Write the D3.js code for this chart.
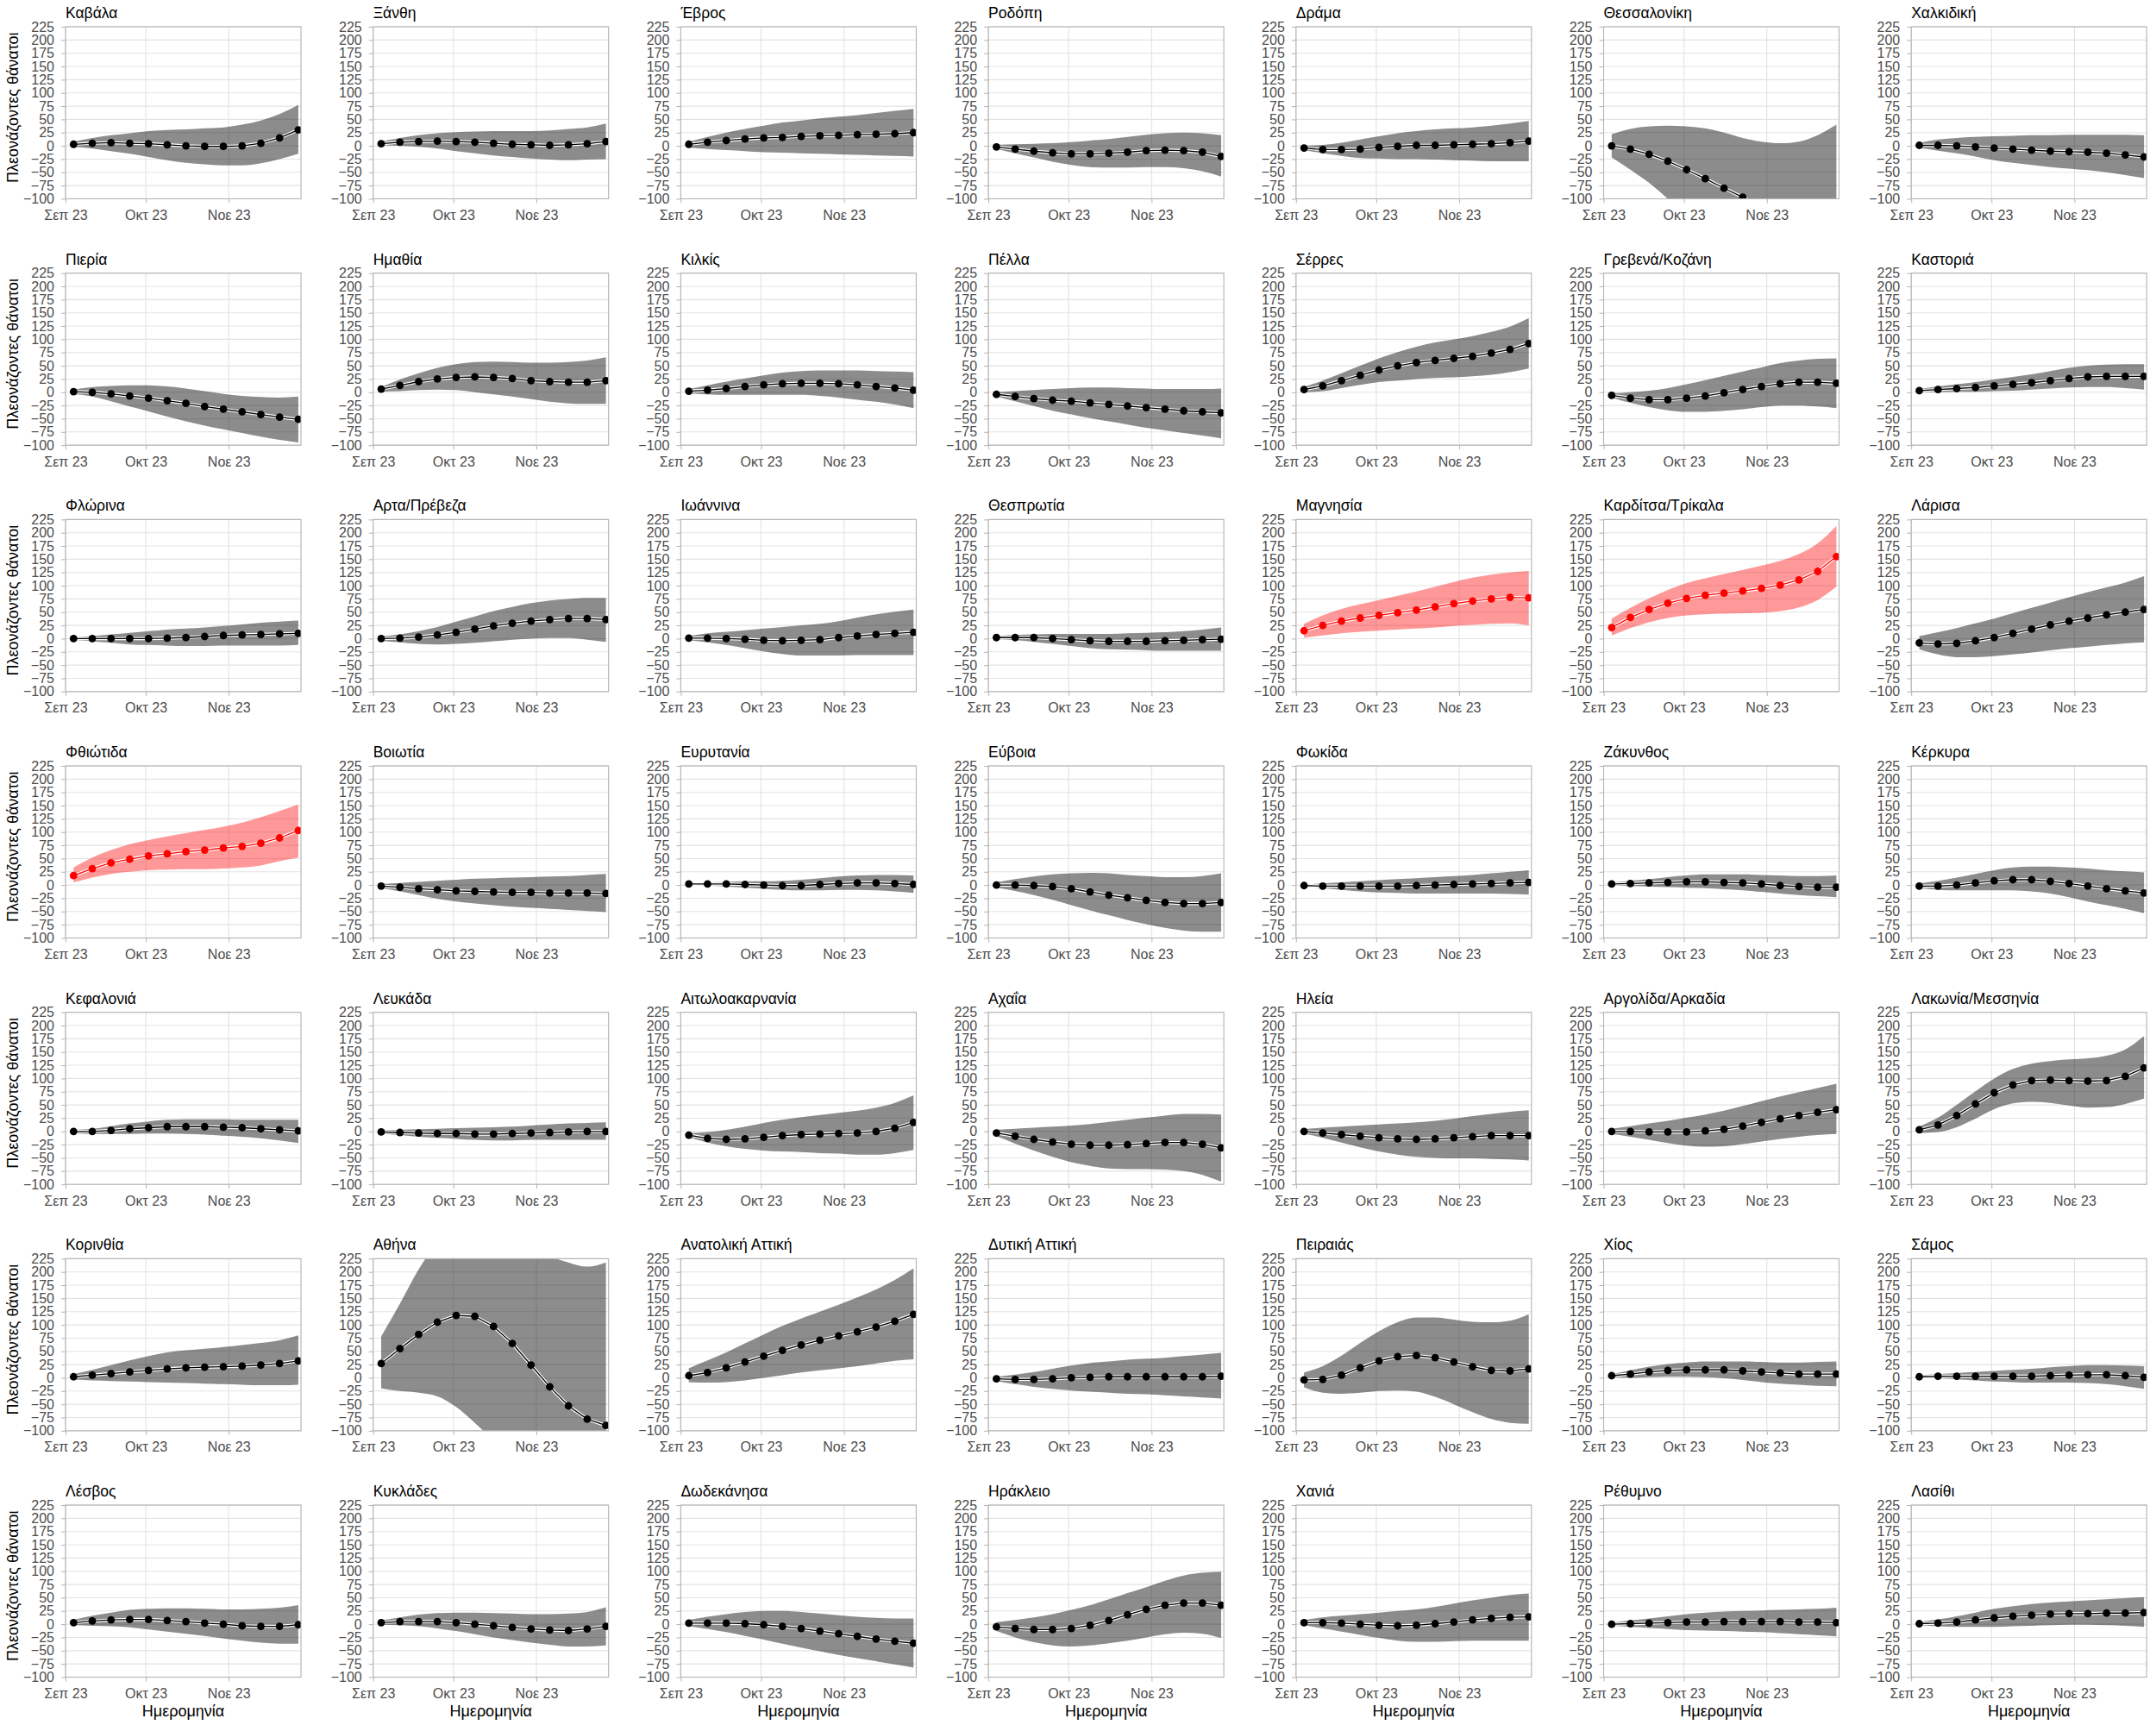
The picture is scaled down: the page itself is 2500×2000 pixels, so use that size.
<!DOCTYPE html>
<html>
<head>
<meta charset="utf-8">
<script src="https://cdn.jsdelivr.net/npm/d3@7"></script>
<style>
  body { margin: 0; background: #fff; }
  svg { display: block; font-family: "Liberation Sans", Arial, Helvetica, sans-serif; }
</style>
</head>
<body>
<div id="chart"></div>
<script>
// regions, in panel order (row by row, 7 per row)
const regions = [
  "Καβάλα", "Ξάνθη", "Έβρος", "Ροδόπη", "Δράμα", "Θεσσαλονίκη", "Χαλκιδική",
  "Πιερία", "Ημαθία", "Κιλκίς", "Πέλλα", "Σέρρες", "Γρεβενά/Κοζάνη", "Καστοριά",
  "Φλώρινα", "Αρτα/Πρέβεζα", "Ιωάννινα", "Θεσπρωτία", "Μαγνησία", "Καρδίτσα/Τρίκαλα", "Λάρισα",
  "Φθιώτιδα", "Βοιωτία", "Ευρυτανία", "Εύβοια", "Φωκίδα", "Ζάκυνθος", "Κέρκυρα",
  "Κεφαλονιά", "Λευκάδα", "Αιτωλοακαρνανία", "Αχαΐα", "Ηλεία", "Αργολίδα/Αρκαδία", "Λακωνία/Μεσσηνία",
  "Κορινθία", "Αθήνα", "Ανατολική Αττική", "Δυτική Αττική", "Πειραιάς", "Χίος", "Σάμος",
  "Λέσβος", "Κυκλάδες", "Δωδεκάνησα", "Ηράκλειο", "Χανιά", "Ρέθυμνο", "Λασίθι"
];

// regions drawn in red
const redRegions = ["Μαγνησία", "Καρδίτσα/Τρίκαλα", "Φθιώτιδα"];

// weekly dates of the estimates
const weekDates = ["2023-09-04", "2023-09-11", "2023-09-18", "2023-09-25", "2023-10-02",
  "2023-10-09", "2023-10-16", "2023-10-23", "2023-10-30", "2023-11-06",
  "2023-11-13", "2023-11-20", "2023-11-27"];

// excess deaths estimate per region
const meanValues = [
  [3,5,6,5,4,2,0,-1,-1,0,5,15,30],
  [4,7,8,9,8,7,5,3,2,1,2,4,8],
  [3,7,10,13,15,16,18,19,20,21,22,23,25],
  [-2,-6,-10,-13,-15,-15,-14,-12,-9,-8,-9,-12,-20],
  [-4,-7,-7,-6,-3,-1,1,1,2,3,4,6,9],
  [0,-6,-16,-29,-45,-62,-80,-97,-115,-132,-148,-163,-178],
  [1,1,0,-2,-4,-6,-8,-10,-11,-12,-14,-17,-21],
  [1,0,-3,-7,-11,-16,-21,-27,-32,-37,-42,-47,-51],
  [6,13,20,25,28,29,28,26,22,20,19,19,22],
  [2,4,7,11,14,16,17,17,16,14,11,8,4],
  [-4,-8,-12,-15,-17,-20,-23,-26,-29,-32,-35,-37,-39],
  [5,12,22,32,42,50,56,60,64,68,74,81,92],
  [-6,-11,-14,-14,-11,-7,-1,5,11,16,19,19,17],
  [3,5,7,9,12,15,18,22,26,29,30,30,30],
  [0,0,0,0,0,1,2,4,6,7,8,9,10],
  [0,1,3,7,12,18,24,29,33,36,38,38,36],
  [1,1,0,-1,-3,-4,-3,-2,2,5,8,10,12],
  [2,2,2,0,-2,-4,-5,-5,-5,-4,-3,-2,-1],
  [15,25,33,39,44,49,54,60,66,71,75,78,77],
  [21,40,55,67,76,82,86,90,95,101,111,127,155],
  [-8,-10,-9,-4,2,10,18,26,33,39,45,50,55],
  [18,31,42,49,55,59,63,66,70,73,79,89,103],
  [-2,-4,-7,-9,-11,-12,-13,-14,-14,-15,-15,-15,-16],
  [2,2,2,1,0,-1,-1,1,3,4,4,3,1],
  [0,0,-1,-3,-7,-13,-19,-24,-29,-33,-35,-35,-33],
  [-1,-2,-2,-2,-2,-2,-1,0,1,2,3,4,5],
  [2,3,4,5,6,6,5,4,2,-1,-3,-4,-4],
  [-2,-2,0,4,8,10,10,7,3,-2,-7,-11,-15],
  [0,0,2,5,7,9,9,9,8,7,5,3,1],
  [-1,-2,-3,-4,-4,-5,-5,-4,-3,-2,-1,0,0],
  [-7,-13,-15,-14,-11,-8,-6,-5,-4,-3,0,6,17],
  [-3,-9,-15,-20,-24,-26,-26,-25,-23,-21,-21,-24,-31],
  [0,-3,-6,-9,-12,-14,-15,-14,-12,-10,-8,-8,-8],
  [0,0,-1,-1,-1,1,4,10,17,24,30,36,41],
  [3,12,30,52,73,88,96,97,96,95,96,104,120],
  [2,5,8,11,14,17,19,20,21,22,24,27,32],
  [27,55,82,105,118,116,97,65,24,-17,-53,-78,-90],
  [4,10,19,30,41,52,62,71,79,87,96,107,120],
  [-2,-3,-3,-2,0,1,2,2,2,2,2,2,3],
  [-4,-3,5,19,32,40,42,38,30,21,14,13,17],
  [4,7,11,14,15,15,15,13,11,9,7,7,7],
  [2,3,3,3,3,3,3,4,5,6,6,4,1],
  [3,6,8,9,9,7,5,2,0,-3,-4,-4,-1],
  [3,5,5,5,3,0,-3,-6,-9,-11,-12,-9,-4],
  [2,2,2,1,-1,-4,-8,-13,-18,-23,-28,-32,-36],
  [-5,-8,-10,-10,-8,-2,7,18,28,36,40,40,36],
  [3,3,2,0,-2,-3,-2,1,4,8,11,13,14],
  [0,1,2,3,4,4,5,5,5,5,4,4,3],
  [1,2,4,8,12,15,17,19,20,20,21,21,22]
];

// lower bound of the interval
const lowerValues = [
  [-2,-5,-10,-15,-21,-27,-32,-35,-37,-37,-33,-25,-15],
  [1,0,-2,-5,-10,-14,-18,-21,-24,-26,-27,-26,-25],
  [-3,-6,-8,-10,-12,-13,-14,-15,-16,-17,-18,-19,-20],
  [-6,-14,-22,-30,-36,-40,-41,-41,-40,-40,-42,-48,-58],
  [-8,-14,-19,-23,-24,-25,-25,-26,-27,-28,-29,-29,-29],
  [-22,-45,-70,-100,-130,-160,-190,-220,-250,-280,-300,-320,-340],
  [-4,-9,-14,-20,-27,-32,-36,-40,-43,-46,-50,-55,-61],
  [-3,-8,-17,-27,-36,-46,-55,-63,-70,-77,-84,-90,-95],
  [1,2,4,5,4,0,-4,-8,-13,-18,-21,-22,-22],
  [-2,-4,-5,-5,-5,-5,-5,-7,-10,-14,-18,-23,-30],
  [-8,-17,-26,-35,-42,-49,-55,-61,-67,-72,-77,-82,-87],
  [0,2,8,14,19,22,25,27,28,30,33,38,45],
  [-10,-20,-28,-34,-37,-37,-35,-32,-28,-25,-25,-27,-30],
  [0,0,1,1,2,3,5,7,9,10,10,8,5],
  [-2,-5,-8,-11,-12,-13,-14,-14,-13,-13,-13,-13,-12],
  [-4,-7,-10,-11,-10,-8,-5,-2,0,1,1,-2,-6],
  [-3,-7,-12,-18,-24,-29,-32,-32,-32,-31,-31,-31,-31],
  [-1,-3,-6,-10,-14,-18,-20,-21,-22,-23,-23,-23,-23],
  [2,6,10,13,15,17,19,21,24,26,28,29,25],
  [6,20,31,39,44,46,47,48,49,52,59,73,98],
  [-20,-30,-35,-35,-33,-30,-26,-22,-18,-15,-12,-9,-7],
  [5,14,21,25,28,29,30,30,31,33,37,45,52],
  [-6,-12,-19,-26,-31,-35,-38,-41,-43,-45,-47,-49,-51],
  [0,-1,-3,-5,-7,-9,-10,-10,-9,-9,-10,-12,-15],
  [-5,-11,-19,-28,-38,-48,-57,-66,-74,-81,-86,-88,-88],
  [-3,-6,-9,-12,-14,-15,-16,-16,-16,-16,-16,-17,-18],
  [-1,-2,-3,-4,-5,-6,-8,-10,-13,-16,-19,-21,-23],
  [-6,-9,-10,-10,-10,-10,-12,-16,-23,-31,-38,-45,-53],
  [-3,-5,-5,-5,-4,-4,-5,-6,-8,-10,-13,-17,-22],
  [-4,-7,-10,-12,-14,-16,-17,-17,-16,-16,-16,-16,-16],
  [-11,-21,-28,-33,-36,-38,-39,-41,-42,-44,-44,-41,-35],
  [-9,-23,-36,-48,-58,-65,-70,-71,-71,-72,-75,-82,-95],
  [-4,-12,-21,-30,-38,-44,-48,-50,-51,-51,-52,-53,-55],
  [-5,-10,-16,-22,-27,-29,-28,-24,-19,-14,-10,-7,-5],
  [-3,-1,8,24,42,53,56,54,49,45,46,52,62],
  [-3,-5,-6,-7,-8,-9,-10,-11,-12,-13,-14,-14,-13],
  [-20,-25,-28,-35,-55,-85,-120,-160,-200,-240,-270,-290,-300],
  [-8,-9,-8,-5,0,5,10,14,18,22,27,32,35],
  [-6,-12,-17,-21,-24,-26,-28,-30,-31,-33,-35,-37,-39],
  [-18,-28,-30,-28,-25,-24,-26,-36,-50,-65,-78,-85,-87],
  [1,0,1,2,2,1,-1,-4,-8,-11,-13,-15,-16],
  [-1,-1,-3,-5,-7,-8,-9,-9,-9,-10,-12,-16,-21],
  [-2,-3,-4,-6,-10,-14,-18,-22,-27,-31,-35,-37,-37],
  [-1,-2,-4,-8,-13,-19,-25,-30,-35,-39,-42,-42,-40],
  [-4,-9,-15,-22,-29,-37,-44,-51,-58,-64,-70,-76,-82],
  [-13,-25,-34,-40,-42,-40,-36,-31,-25,-19,-16,-18,-26],
  [-2,-8,-14,-20,-26,-31,-33,-33,-32,-31,-31,-31,-31],
  [-3,-5,-7,-9,-11,-12,-13,-14,-15,-17,-19,-21,-23],
  [-2,-4,-5,-5,-5,-4,-3,-2,-1,-1,-2,-3,-5]
];

// upper bound of the interval
const upperValues = [
  [8,15,20,24,28,30,31,33,35,40,48,60,77],
  [8,15,20,24,26,27,28,28,28,29,32,35,42],
  [8,17,25,32,38,44,48,52,55,58,62,66,70],
  [2,3,4,5,7,10,13,17,21,24,25,24,20],
  [0,2,6,12,18,24,28,31,33,35,38,42,47],
  [22,32,37,38,37,33,25,15,8,5,8,20,40],
  [6,12,15,17,18,19,20,20,21,21,21,21,20],
  [5,10,12,13,13,11,7,2,-3,-7,-9,-10,-8],
  [10,24,36,46,53,57,58,57,56,56,57,60,66],
  [6,13,20,26,32,37,40,41,41,41,40,39,38],
  [0,2,4,6,8,9,9,8,7,6,6,6,7],
  [10,22,36,50,64,76,86,94,100,106,114,124,140],
  [-2,0,3,8,15,23,31,39,47,55,60,63,64],
  [6,11,15,19,24,29,34,40,46,50,52,53,53],
  [2,5,8,11,14,17,19,21,24,27,30,32,34],
  [4,8,14,22,32,42,52,60,67,72,75,77,77],
  [5,10,13,16,19,22,25,28,33,40,46,51,55],
  [5,7,8,9,9,9,9,10,11,12,14,17,21],
  [28,44,56,65,73,81,89,98,107,115,121,125,128],
  [38,58,76,92,105,114,122,130,138,147,160,180,213],
  [5,12,20,29,38,48,58,68,78,88,97,106,118],
  [33,52,66,77,85,92,98,104,110,118,128,140,152],
  [2,4,6,8,10,12,13,14,15,16,17,19,21],
  [4,5,6,7,7,8,10,13,16,18,19,19,18],
  [5,11,16,20,22,23,22,19,17,15,15,17,22],
  [1,3,5,7,9,11,13,15,17,19,22,25,28],
  [5,8,11,15,18,20,20,20,19,18,17,17,18],
  [3,8,14,21,28,33,35,35,33,31,28,26,24],
  [3,5,10,15,19,22,23,23,23,22,22,22,22],
  [2,3,4,5,6,7,8,9,11,13,15,16,17],
  [-3,-1,3,9,16,22,27,31,35,39,45,54,68],
  [3,5,7,9,11,14,18,22,26,30,33,33,32],
  [4,7,9,11,13,15,17,20,24,29,33,37,40],
  [5,10,15,20,26,32,39,48,57,66,74,82,90],
  [9,26,50,76,100,118,128,133,136,138,143,155,180],
  [7,15,24,33,41,48,52,55,58,62,66,71,80],
  [78,140,205,255,285,295,290,275,250,230,218,210,218],
  [18,33,48,65,82,98,112,125,138,152,167,185,207],
  [2,6,11,17,23,28,31,34,36,38,41,44,47],
  [10,22,42,66,88,105,114,114,110,106,105,108,120],
  [7,14,21,26,29,31,31,31,30,29,29,30,31],
  [5,7,9,11,13,15,17,20,22,24,24,23,22],
  [8,16,22,27,29,30,30,29,28,28,29,31,36],
  [7,13,18,21,22,22,21,20,19,19,20,23,32],
  [8,14,19,23,25,25,23,20,17,14,12,11,11],
  [4,8,13,19,27,36,47,59,70,82,92,97,99],
  [8,13,16,19,22,25,28,33,39,45,50,55,58],
  [3,7,11,15,19,22,24,25,26,27,28,29,31],
  [4,9,15,22,29,34,38,41,43,45,47,49,51]
];

const yTicks = [-100, -75, -50, -25, 0, 25, 50, 75, 100, 125, 150, 175, 200, 225];
const monthTicks = ["2023-09-01", "2023-10-01", "2023-11-01"];
const monthLabels = ["Σεπ 23", "Οκτ 23", "Νοε 23"];

const yTitle = "Πλεονάζοντες θάνατοι";
const xTitle = "Ημερομηνία";

// layout
const width = 2500, height = 2000;
const nCols = 7;
const panelW = 273, panelH = 199.5;
const colStep = 356.7, rowStep = 285.67;
const left0 = 76, top0 = 31;

const parse = d3.utcParse("%Y-%m-%d");
const dates = weekDates.map(parse);
const monthDates = monthTicks.map(parse);

const x = d3.scaleUtc()
  .domain([parse("2023-09-01"), parse("2023-11-28")])
  .range([0, panelW]);
const y = d3.scaleLinear().domain([-100, 225]).range([panelH, 0]);

const svg = d3.select("#chart").append("svg")
  .attr("width", width)
  .attr("height", height);

const nRows = Math.ceil(regions.length / nCols);

regions.forEach((name, i) => {
  const col = i % nCols, row = Math.floor(i / nCols);
  const g = svg.append("g")
    .attr("transform", `translate(${left0 + col * colStep},${top0 + row * rowStep})`);
  const isRed = redRegions.includes(name);
  const color = isRed ? "#ff0000" : "#000000";

  const clipId = "clip" + i;
  g.append("clipPath").attr("id", clipId)
    .append("rect").attr("width", panelW).attr("height", panelH);

  // grid
  g.append("g").selectAll("line").data(yTicks).join("line")
    .attr("x1", 0).attr("x2", panelW)
    .attr("y1", d => y(d)).attr("y2", d => y(d))
    .attr("stroke", "#e3e3e3").attr("stroke-width", 1.1);
  g.append("g").selectAll("line").data(monthDates).join("line")
    .attr("y1", 0).attr("y2", panelH)
    .attr("x1", d => x(d)).attr("x2", d => x(d))
    .attr("stroke", "#e3e3e3").attr("stroke-width", 1.1);

  const pts = dates.map((d, k) => ({
    date: d,
    mean: meanValues[i][k],
    lo: lowerValues[i][k],
    hi: upperValues[i][k]
  }));

  const plot = g.append("g").attr("clip-path", `url(#${clipId})`);

  plot.append("path")
    .datum(pts)
    .attr("fill", color)
    .attr("fill-opacity", isRed ? 0.4 : 0.45)
    .attr("d", d3.area()
      .curve(d3.curveMonotoneX)
      .x(d => x(d.date))
      .y0(d => y(d.lo))
      .y1(d => y(d.hi)));

  const line = d3.line().x(d => x(d.date)).y(d => y(d.mean));
  plot.append("path").datum(pts)
    .attr("fill", "none").attr("stroke", "#ffffff").attr("stroke-width", 3.6)
    .attr("d", line);
  plot.append("path").datum(pts)
    .attr("fill", "none").attr("stroke", color).attr("stroke-width", 1.3)
    .attr("d", line);
  plot.append("g").selectAll("circle").data(pts).join("circle")
    .attr("cx", d => x(d.date)).attr("cy", d => y(d.mean))
    .attr("r", 4.4).attr("fill", color);

  // border
  g.append("rect")
    .attr("width", panelW).attr("height", panelH)
    .attr("fill", "none").attr("stroke", "#b3b3b3").attr("stroke-width", 1.1);

  // axes
  const yAxis = g.append("g")
    .call(d3.axisLeft(y).tickValues(yTicks).tickSize(5).tickPadding(8));
  const xAxis = g.append("g")
    .attr("transform", `translate(0,${panelH})`)
    .call(d3.axisBottom(x).tickValues(monthDates).tickSize(5).tickPadding(8)
      .tickFormat((d, k) => monthLabels[k]));
  [yAxis, xAxis].forEach(a => {
    a.select(".domain").remove();
    a.selectAll(".tick line").attr("stroke", "#b3b3b3");
    a.selectAll(".tick text")
      .attr("fill", "#4d4d4d")
      .style("font-size", "16px")
      .style("font-family", "'Liberation Sans', Arial, sans-serif");
  });

  // title
  g.append("text")
    .attr("x", 0).attr("y", -10)
    .attr("fill", "#000")
    .style("font-size", "17.5px")
    .text(name);

  if (col === 0) {
    g.append("text")
      .attr("transform", `translate(-55,${panelH / 2 - 6}) rotate(-90)`)
      .attr("text-anchor", "middle")
      .attr("fill", "#000")
      .style("font-size", "18px")
      .text(yTitle);
  }
  if (row === nRows - 1) {
    g.append("text")
      .attr("x", panelW / 2).attr("y", panelH + 45)
      .attr("text-anchor", "middle")
      .attr("fill", "#000")
      .style("font-size", "18px")
      .text(xTitle);
  }
});
</script>
</body>
</html>
